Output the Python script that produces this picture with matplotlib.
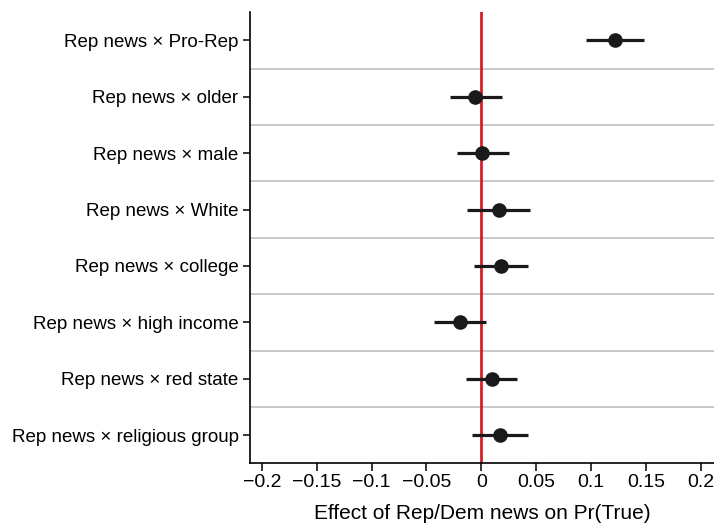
import matplotlib
matplotlib.use("Agg")
import matplotlib.pyplot as plt

plt.rcParams['font.family'] = ['Liberation Sans', 'DejaVu Sans']

# Interaction terms (top to bottom) with point estimates and 95% CIs
terms = ["Rep news \u00d7 Pro-Rep", "Rep news \u00d7 older", "Rep news \u00d7 male",
         "Rep news \u00d7 White", "Rep news \u00d7 college", "Rep news \u00d7 high income",
         "Rep news \u00d7 red state", "Rep news \u00d7 religious group"]
estimate = [0.122, -0.0055, 0.001, 0.0158, 0.018, -0.0197, 0.0094, 0.0167]
ci_low = [0.095, -0.0288, -0.0221, -0.0127, -0.0064, -0.0431, -0.0137, -0.0082]
ci_high = [0.1485, 0.0186, 0.025, 0.0443, 0.0422, 0.0043, 0.0325, 0.0422]

xticks = [-0.2, -0.15, -0.1, -0.05, 0, 0.05, 0.1, 0.15, 0.2]
xticklabels = ["\u22120.2", "\u22120.15", "\u22120.1", "\u22120.05", "0", "0.05", "0.1", "0.15", "0.2"]

fig = plt.figure(figsize=(7.14, 5.24), dpi=100)
ax = fig.add_axes([0.3497, 0.1158, 0.6503, 0.861])

n = len(terms)
ypos = list(range(n, 0, -1))

# row separators
for k in range(1, n):
    ax.axhline(k + 0.5, color="#c8c8c8", lw=1.4, zorder=1)

ax.axvline(0, color="#d3202a", lw=2.0, zorder=2)

ax.hlines(ypos, ci_low, ci_high, color="#1a1a1a", lw=2.3, zorder=3)
ax.plot(estimate, ypos, "o", color="#1a1a1a", ms=9.5, zorder=4)

ax.set_xlim(-0.211, 0.212)
ax.set_ylim(0.5, n + 0.5)
ax.set_yticks(ypos)
ax.set_yticklabels(terms, fontsize=13.5)
ax.set_xticks(xticks)
ax.set_xticklabels(xticklabels, fontsize=14)
ax.set_xlabel("Effect of Rep/Dem news on Pr(True)", fontsize=15, labelpad=9)

for side in ("top", "right"):
    ax.spines[side].set_visible(False)
for side in ("left", "bottom"):
    ax.spines[side].set_linewidth(1.2)
ax.tick_params(axis="y", length=5, width=1.1, pad=3)
ax.tick_params(axis="x", length=6, width=1.1, pad=2)

fig.savefig("out.png", dpi=100)
